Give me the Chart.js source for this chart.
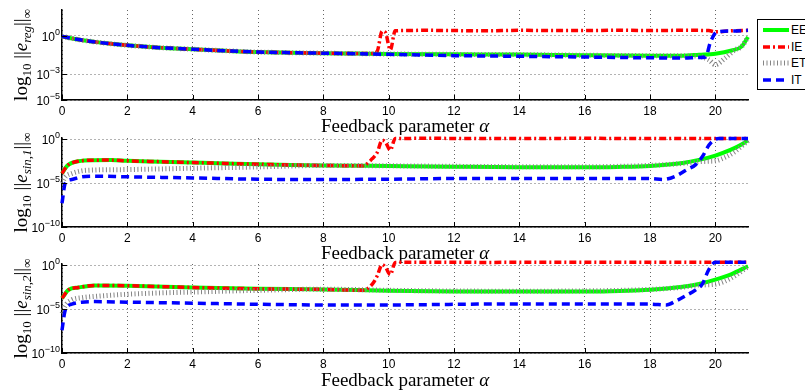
<!DOCTYPE html>
<html>
<head>
<meta charset="utf-8">
<script src="https://cdn.jsdelivr.net/npm/chart.js@4"></script>
<style>
  body { margin: 0; background: #fff; width: 805px; height: 392px; overflow: hidden; position: relative; }
  .box { position: absolute; left: 0; width: 805px; }
  #legend { position: absolute; left: 757px; top: 19px; width: 70px; height: 69px; border: 1px solid #000; background: #fff;
            font: 12px "Liberation Sans", Arial, sans-serif; }
  #legend .row { position: absolute; left: 0; height: 16px; line-height: 16px; }
  #legend svg { position: absolute; left: 5px; top: 0; }
  #legend span { position: absolute; left: 33px; top: 0; }
</style>
</head>
<body>
<div class="box" style="top:0;height:135px"><canvas id="c1"></canvas></div>
<div class="box" style="top:128px;height:135px"><canvas id="c2"></canvas></div>
<div class="box" style="top:254px;height:138px"><canvas id="c3"></canvas></div>
<div id="legend"></div>

<script>
// values, as log10 of the error
const seriesNames = ["EE", "IE", "ET", "IT"];
const xTicks = [0, 2, 4, 6, 8, 10, 12, 14, 16, 18, 20];
const xTitle = [["Feedback parameter ", 0], ["\u03b1", 2]];

// plot 1: ||e_reg||
const yTicks1 = [1e-5, 1e-3, 1];
const yTickLabels1 = [["10", "\u22125"], ["10", "\u22123"], ["10", "0"]];
const eeX1 = [0, 0.5, 1, 1.5, 2, 3, 4, 5, 6, 7, 8, 9, 10, 12, 14, 16, 18, 19, 19.5, 20, 20.5, 20.8, 21];
const eeY1 = [-0.05, -0.3, -0.48, -0.63, -0.75, -0.93, -1.05, -1.17, -1.27, -1.32, -1.36, -1.39, -1.42, -1.45, -1.47, -1.52, -1.55, -1.55, -1.48, -1.4, -1.15, -0.85, -0.1];
const ieX1 = [0, 0.5, 1, 1.5, 2, 3, 4, 5, 6, 7, 8, 9, 9.5, 9.65, 9.8, 9.9, 10.05, 10.2, 10.5, 11, 12, 13, 14, 15, 16, 17, 18, 19, 19.8, 20, 20.5, 21];
const ieY1 = [-0.05, -0.3, -0.48, -0.63, -0.75, -0.93, -1.05, -1.17, -1.27, -1.32, -1.36, -1.39, -1.38, -1.2, 0.35, 0.25, -1.1, 0.38, 0.4, 0.42, 0.4, 0.38, 0.42, 0.4, 0.4, 0.43, 0.4, 0.42, 0.4, 0.3, 0.38, 0.42];
const etX1 = [0, 0.5, 1, 1.5, 2, 3, 4, 5, 6, 7, 8, 9, 10, 12, 14, 16, 18, 19, 19.5, 19.8, 20, 20.3, 20.6, 20.8, 21];
const etY1 = [-0.05, -0.3, -0.48, -0.63, -0.75, -0.93, -1.05, -1.17, -1.27, -1.32, -1.36, -1.39, -1.42, -1.45, -1.47, -1.52, -1.55, -1.55, -1.6, -1.87, -2.25, -1.74, -1.1, -0.85, -0.1];
const itX1 = [0, 0.5, 1, 1.5, 2, 3, 4, 5, 6, 7, 8, 9, 10, 12, 14, 16, 18, 19, 19.5, 19.7, 19.85, 20.05, 20.5, 21];
const itY1 = [-0.05, -0.3, -0.48, -0.63, -0.75, -0.93, -1.05, -1.17, -1.27, -1.32, -1.36, -1.4, -1.45, -1.55, -1.6, -1.66, -1.72, -1.74, -1.7, -1.66, -0.5, 0.3, 0.36, 0.42];

// plot 2: ||e_sin,1||
const yTicks2 = [1e-10, 1e-5, 1];
const yTickLabels2 = [["10", "\u221210"], ["10", "\u22125"], ["10", "0"]];
const eeX2 = [0, 0.1, 0.2, 0.5, 1, 1.5, 2, 3, 4, 5, 6, 7, 8, 10, 12, 14, 16, 17, 18, 19, 19.5, 20, 20.5, 20.8, 21];
const eeY2 = [-3.9, -3.3, -2.9, -2.5, -2.38, -2.37, -2.45, -2.55, -2.65, -2.75, -2.84, -2.92, -2.98, -3.05, -3.12, -3.18, -3.2, -3.15, -3.03, -2.7, -2.35, -1.85, -1.15, -0.6, -0.1];
const ieX2 = [0, 0.1, 0.2, 0.5, 1, 1.5, 2, 3, 4, 5, 6, 7, 8, 9.2, 9.5, 9.65, 9.8, 9.9, 10.05, 10.2, 10.5, 11, 12, 13, 14, 15, 16, 17, 18, 19, 20, 21];
const ieY2 = [-3.9, -3.3, -2.9, -2.5, -2.38, -2.37, -2.45, -2.55, -2.65, -2.75, -2.84, -2.92, -2.98, -3.02, -2.2, -1.5, -0.1, -0.3, -1.25, 0.1, 0.1, 0.12, 0.1, 0.08, 0.1, 0.1, 0.12, 0.1, 0.1, 0.1, 0.1, 0.1];
const etX2 = [0, 0.1, 0.3, 0.6, 1, 2, 4, 6, 8, 10, 12, 14, 16, 18, 19, 19.5, 19.8, 20, 20.3, 20.6, 21];
const etY2 = [-5.0, -4.3, -3.9, -3.6, -3.5, -3.45, -3.3, -3.15, -2.98, -3.02, -3.08, -3.12, -3.13, -2.97, -2.75, -2.55, -2.5, -2.45, -2.05, -1.4, -0.15];
const itX2 = [0, 0.1, 0.3, 0.6, 1, 2, 4, 6, 8, 10, 12, 14, 16, 18, 18.4, 18.8, 19.1, 19.4, 19.6, 19.8, 19.95, 20.1, 21];
const itY2 = [-7.3, -5.0, -4.58, -4.28, -4.2, -4.28, -4.4, -4.55, -4.58, -4.55, -4.47, -4.47, -4.47, -4.47, -4.58, -4.17, -3.52, -2.88, -2.0, -0.68, -0.1, 0.1, 0.1];

// plot 3: ||e_sin,2||
const yTicks3 = [1e-10, 1e-5, 1];
const yTickLabels3 = [["10", "\u221210"], ["10", "\u22125"], ["10", "0"]];
const eeX3 = [0, 0.2, 0.5, 1, 2, 4, 6, 8, 10, 12, 14, 16, 18, 19, 19.5, 20, 20.5, 21];
const eeY3 = [-3.75, -2.8, -2.53, -2.3, -2.33, -2.53, -2.68, -2.75, -2.9, -2.98, -3.0, -3.0, -2.8, -2.45, -2.14, -1.64, -1.0, -0.1];
const ieX3 = [0, 0.2, 0.5, 1, 2, 4, 6, 8, 9.2, 9.5, 9.65, 9.8, 9.9, 10.05, 10.2, 11, 12, 13, 14, 15, 16, 17, 18, 19, 20, 21];
const ieY3 = [-3.75, -2.8, -2.53, -2.3, -2.33, -2.53, -2.68, -2.75, -2.85, -2.14, -1.2, 0.08, -0.2, -1.07, 0.33, 0.35, 0.35, 0.33, 0.35, 0.35, 0.35, 0.35, 0.35, 0.35, 0.35, 0.35];
const etX3 = [0, 0.1, 0.3, 0.6, 1, 2, 3, 4, 6, 8, 10, 12, 14, 16, 18, 19, 19.5, 19.9, 20.2, 20.6, 21];
const etY3 = [-5.5, -4.6, -3.95, -3.7, -3.55, -3.3, -3.15, -3.05, -2.85, -2.72, -2.85, -2.93, -2.95, -2.92, -2.75, -2.5, -2.25, -2.2, -1.95, -1.2, -0.15];
const itX3 = [0, 0.1, 0.3, 0.6, 1, 2, 4, 6, 8, 10, 12, 14, 16, 18, 18.5, 18.8, 19.1, 19.4, 19.6, 19.8, 20, 21];
const itY3 = [-7.4, -5.1, -4.44, -4.2, -4.14, -4.2, -4.32, -4.44, -4.52, -4.52, -4.45, -4.4, -4.42, -4.42, -4.52, -4.06, -3.45, -2.8, -2.14, -0.5, 0.35, 0.35];

// y-axis titles, pieces: 0 roman, 1 roman subscript, 2 italic, 3 italic subscript
const yTitle1 = [["log", 0], ["10", 1], [" ||", 0], ["e", 2], ["reg", 3], ["||", 0], ["\u221e", 1]];
const yTitle2 = [["log", 0], ["10", 1], [" ||", 0], ["e", 2], ["sin,1", 3], ["||", 0], ["\u221e", 1]];
const yTitle3 = [["log", 0], ["10", 1], [" ||", 0], ["e", 2], ["sin,2", 3], ["||", 0], ["\u221e", 1]];

const styles = [
  { color: "#00ff00", width: 4, dash: [] },
  { color: "#ff0000", width: 3.5, dash: [7, 3, 2, 3] },
  { color: "#858585", width: 5, dash: [1, 2.5] },
  { color: "#0000ff", width: 3.5, dash: [8, 5] }
];

const serifFonts = [
  "19px 'Liberation Serif', serif",
  "13px 'Liberation Serif', serif",
  "italic 19px 'Liberation Serif', serif",
  "italic 13px 'Liberation Serif', serif"
];

function pts(xs, logs) {
  return xs.map((x, i) => ({ x: x, y: Math.pow(10, logs[i]) }));
}

// draws a row of text pieces centred on (0,0) in the current transform
function drawPieces(ctx, parts) {
  let total = 0;
  parts.forEach(p => { ctx.font = serifFonts[p[1]]; total += ctx.measureText(p[0]).width; });
  let x = -total / 2;
  parts.forEach(p => {
    ctx.font = serifFonts[p[1]];
    ctx.fillText(p[0], x, (p[1] === 1 || p[1] === 3) ? 4 : 0);
    x += ctx.measureText(p[0]).width;
  });
}

const axisTextPlugin = {
  id: "axisText",
  afterDraw(chart, args, opts) {
    const ctx = chart.ctx;
    const a = chart.chartArea;
    const xs = chart.scales.x, ys = chart.scales.y;
    ctx.save();
    ctx.fillStyle = "#000";
    ctx.textBaseline = "alphabetic";

    // y title, rotated
    ctx.save();
    ctx.translate(27, (a.top + a.bottom) / 2);
    ctx.rotate(-Math.PI / 2);
    drawPieces(ctx, opts.yTitle);
    ctx.restore();

    // x title
    ctx.save();
    ctx.translate((a.left + a.right) / 2, opts.xTitleY);
    drawPieces(ctx, xTitle);
    ctx.restore();

    // y tick labels with real superscripts
    ys.ticks.forEach((t, i) => {
      const py = ys.getPixelForValue(t.value);
      const lab = opts.yLabels[i];
      ctx.font = "9px 'Liberation Sans', Arial, sans-serif";
      const wSup = ctx.measureText(lab[1]).width;
      ctx.textAlign = "left";
      ctx.fillText(lab[1], 60 - wSup, py - 1);
      ctx.font = "12px 'Liberation Sans', Arial, sans-serif";
      const wBase = ctx.measureText(lab[0]).width;
      ctx.fillText(lab[0], 60 - wSup - wBase, py + 5);
    });

    // small inward tick marks
    ctx.strokeStyle = "#000";
    ctx.lineWidth = 1;
    ctx.beginPath();
    xs.ticks.forEach(t => {
      const px = Math.round(xs.getPixelForValue(t.value)) + 0.5;
      ctx.moveTo(px, a.bottom); ctx.lineTo(px, a.bottom - 5);
    });
    ys.ticks.forEach(t => {
      const py = Math.round(ys.getPixelForValue(t.value)) + 0.5;
      ctx.moveTo(a.left, py); ctx.lineTo(a.left + 5, py);
    });
    ctx.stroke();
    ctx.restore();
  }
};

function makeChart(id, data, yMin, yMax, yTicks, yLabels, titleParts, xAxisH, xTitleY) {
  const order = [3, 2, 1, 0];
  return new Chart(document.getElementById(id), {
    type: "line",
    data: {
      datasets: data.map((d, i) => ({
        label: seriesNames[i],
        data: d,
        borderColor: styles[i].color,
        borderWidth: styles[i].width,
        borderDash: styles[i].dash,
        pointRadius: 0,
        fill: false,
        cubicInterpolationMode: "monotone",
        clip: false,
        order: order[i]
      }))
    },
    options: {
      responsive: true,
      maintainAspectRatio: false,
      animation: false,
      layout: { padding: { top: 10, right: 57, left: 0, bottom: 0 } },
      plugins: {
        legend: { display: false }, tooltip: { enabled: false },
        axisText: { yTitle: titleParts, yLabels: yLabels, xTitleY: xTitleY }
      },
      scales: {
        x: {
          type: "linear", min: 0, max: 21,
          afterBuildTicks: s => { s.ticks = xTicks.map(v => ({ value: v })); },
          afterFit: s => { s.height = xAxisH; },
          grid: { color: "#666", lineWidth: 1, drawTicks: false },
          border: { display: true, color: "#000", width: 1.5, dash: [1, 3] },
          ticks: { color: "#000", padding: 4, font: { family: "'Liberation Sans', Arial, sans-serif", size: 12 } }
        },
        y: {
          type: "logarithmic", min: yMin, max: yMax,
          afterBuildTicks: s => { s.ticks = yTicks.map(v => ({ value: v })); },
          afterFit: s => { s.width = 62; },
          grid: { color: "#666", lineWidth: 1, drawTicks: false },
          border: { display: true, color: "#000", width: 1.5, dash: [1, 3] },
          ticks: { display: false }
        }
      }
    },
    plugins: [axisTextPlugin]
  });
}

makeChart("c1", [pts(eeX1, eeY1), pts(ieX1, ieY1), pts(etX1, etY1), pts(itX1, itY1)],
  1e-5, 100, yTicks1, yTickLabels1, yTitle1, 35, 132);
makeChart("c2", [pts(eeX2, eeY2), pts(ieX2, ieY2), pts(etX2, etY2), pts(itX2, itY2)],
  1e-10, 1.41, yTicks2, yTickLabels2, yTitle2, 36, 131);
makeChart("c3", [pts(eeX3, eeY3), pts(ieX3, ieY3), pts(etX3, etY3), pts(itX3, itY3)],
  1e-10, 1.41, yTicks3, yTickLabels3, yTitle3, 39, 132);

// legend
const legend = document.getElementById("legend");
seriesNames.forEach((name, i) => {
  const row = document.createElement("div");
  row.className = "row";
  row.style.top = (2 + i * 16.7) + "px";
  const s = styles[i];
  row.innerHTML = '<svg width="26" height="16"><line x1="0" y1="8" x2="26" y2="8" stroke="' + s.color +
    '" stroke-width="' + s.width + '" stroke-dasharray="' + (s.dash.length ? s.dash.join(",") : "none") + '"/></svg>' +
    '<span>' + name + '</span>';
  legend.appendChild(row);
});
</script>
</body>
</html>
